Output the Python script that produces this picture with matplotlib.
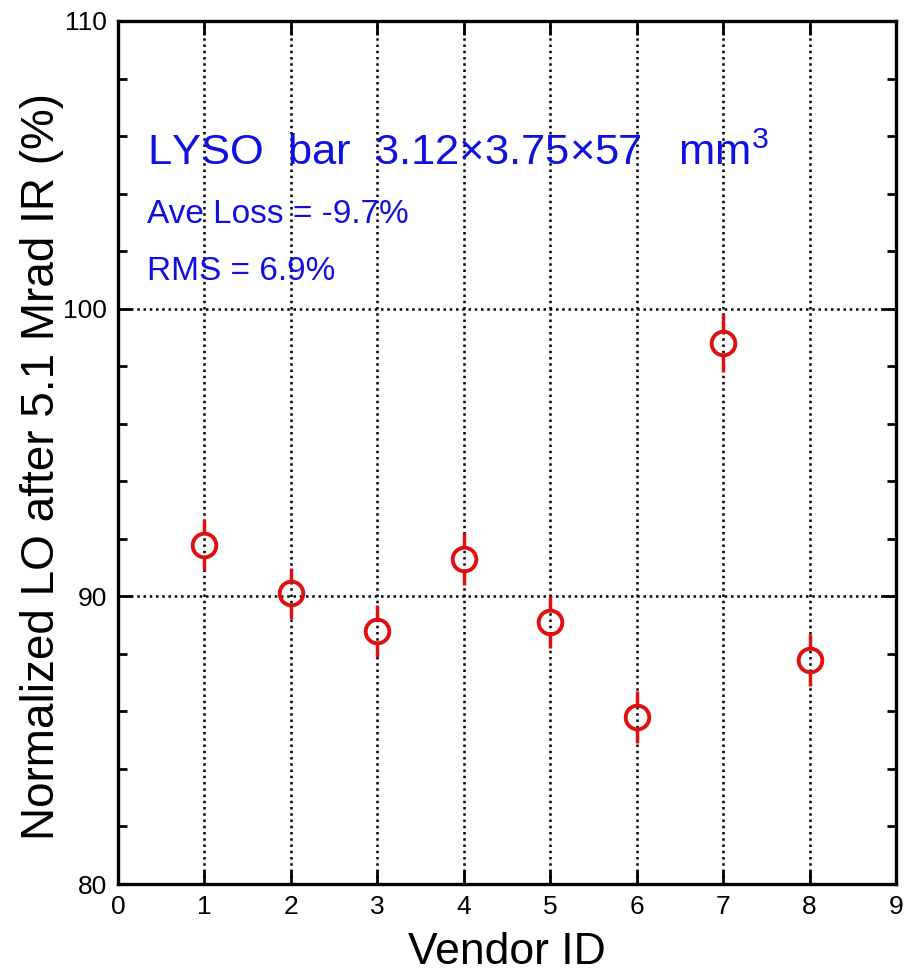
import numpy as np
import matplotlib.pyplot as plt
from matplotlib.ticker import MultipleLocator

plt.rcParams['font.family'] = ['Liberation Sans', 'DejaVu Sans']
plt.rcParams['mathtext.fontset'] = 'custom'
plt.rcParams['mathtext.rm'] = 'Liberation Sans'

# data
vendor = [1, 2, 3, 4, 5, 6, 7, 8]
lo_norm = [91.8, 90.1, 88.8, 91.3, 89.1, 85.8, 98.8, 87.8]
lo_err = [0.9, 0.9, 0.9, 0.9, 0.9, 0.9, 1.0, 0.9]

x_ticks = [0, 1, 2, 3, 4, 5, 6, 7, 8, 9]
y_ticks = [80, 90, 100, 110]

fig = plt.figure(figsize=[9.08, 9.75], dpi=100)
ax = fig.add_axes([118 / 908, 1 - 884 / 975, 778 / 908, 863 / 975])

ax.set_xlim(0, 9)
ax.set_ylim(80, 110)
ax.set_xticks(x_ticks)
ax.set_yticks(y_ticks)
ax.yaxis.set_minor_locator(MultipleLocator(2))

ax.grid(True, which='major', color='black', linestyle=(0, (1, 1.5)), linewidth=1.8)

# error bars with a gap where the open circle sits
gap = 0.45
x = np.array(vendor)
y = np.array(lo_norm)
e = np.array(lo_err)
ax.vlines(x, y + gap, y + e, color='#e01010', linewidth=2.5, zorder=3)
ax.vlines(x, y - e, y - gap, color='#e01010', linewidth=2.5, zorder=3)
ax.plot(x, y, linestyle='none', marker='o', markersize=17,
        markerfacecolor='none', markeredgecolor='#e01010',
        markeredgewidth=2.8, zorder=4)

for s in ax.spines.values():
    s.set_linewidth(2.4)
ax.tick_params(which='both', direction='in', top=True, right=True,
               width=2.0, labelsize=19, pad=8)
ax.tick_params(which='major', length=10)
ax.tick_params(which='minor', length=6.5)

ax.set_xlabel('Vendor ID', fontsize=32, labelpad=9)
ax.set_ylabel('Normalized LO after 5.1 Mrad IR (%)', fontsize=33)
ax.yaxis.set_label_coords(-0.069, 0.484)

blue = '#1010e0'
ax.text(0.34, 105.0, 'LYSO  bar  3.12\u00d73.75\u00d757   mm$^{\\mathregular{3}}$',
        color=blue, fontsize=31.3)
ax.text(0.34, 102.98, 'Ave Loss = -9.7%', color=blue, fontsize=24)
ax.text(0.34, 100.99, 'RMS = 6.9%', color=blue, fontsize=24)

fig.savefig('out.png', dpi=100)
plt.clf()
